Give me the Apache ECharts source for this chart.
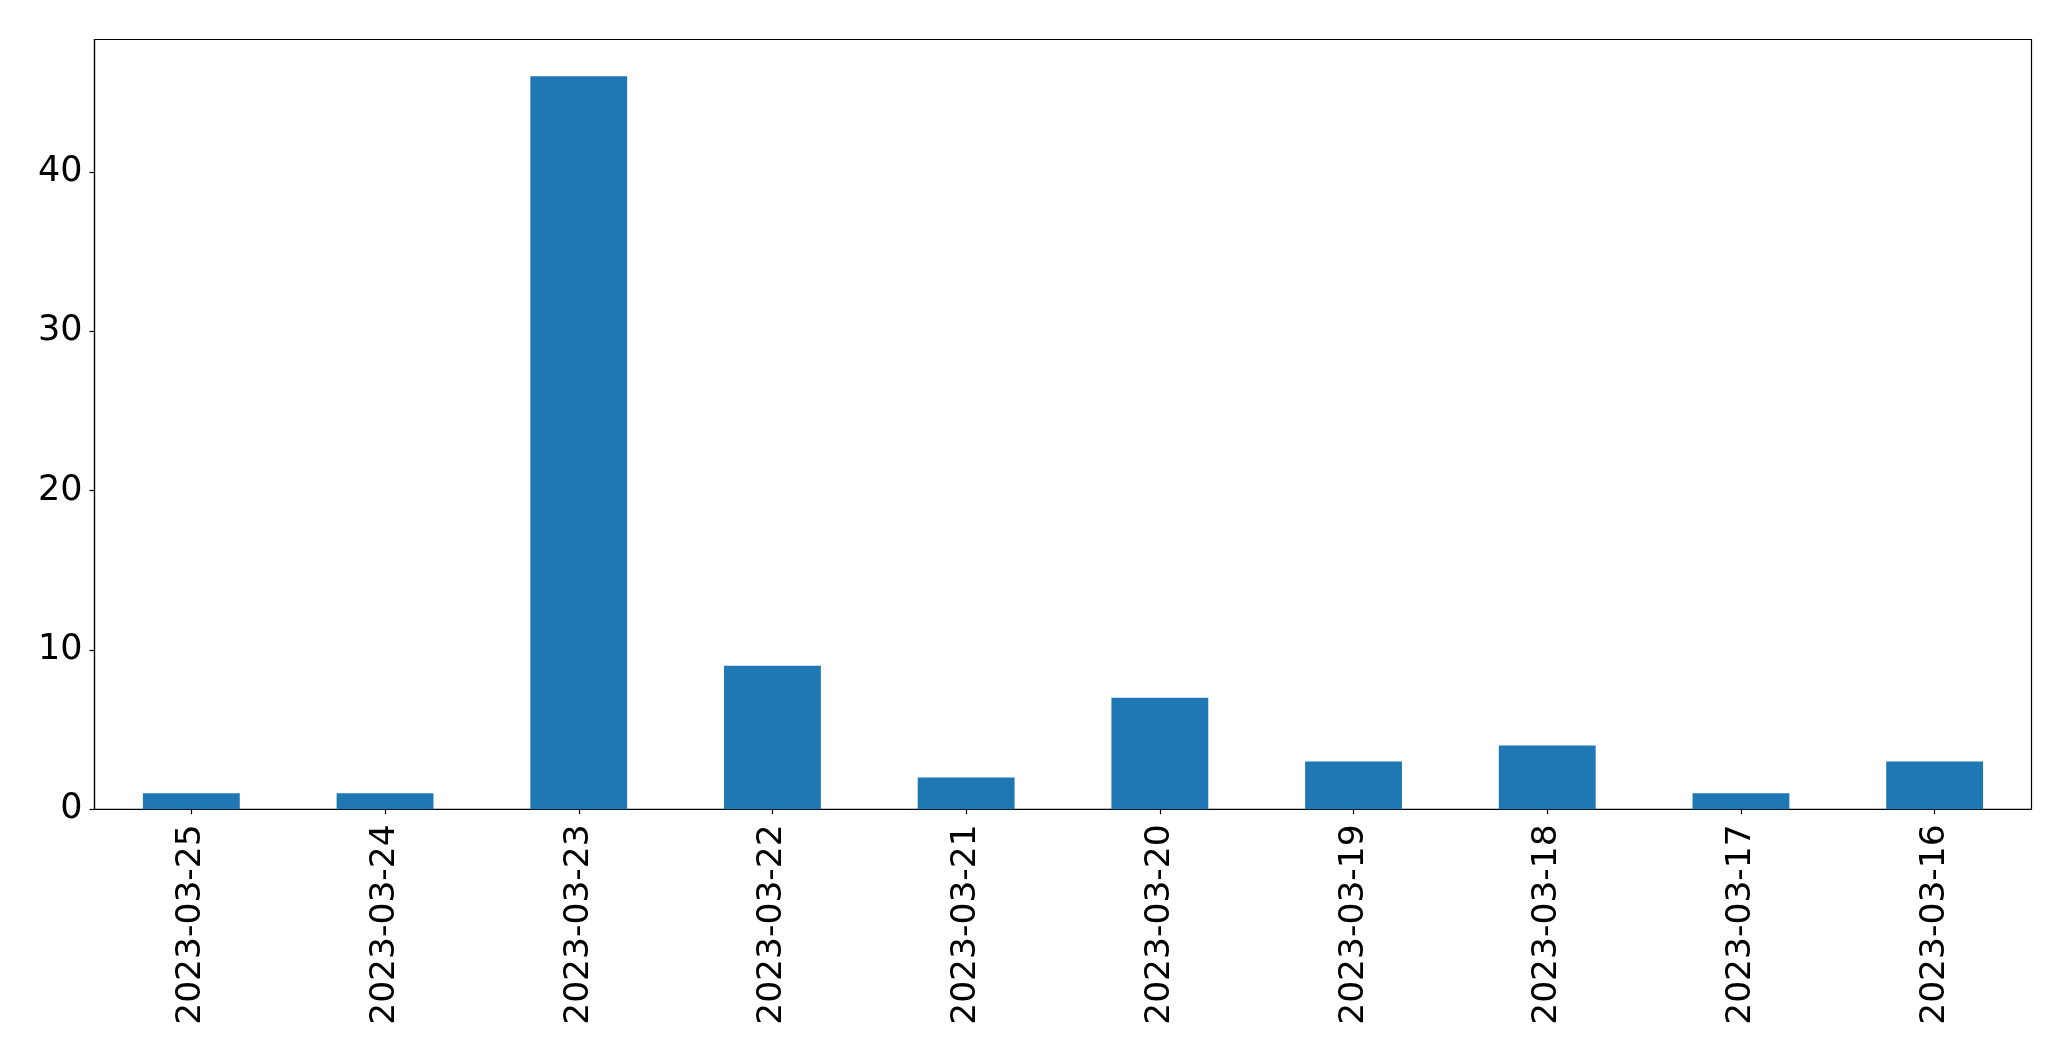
<!DOCTYPE html>
<html>
<head>
<meta charset="utf-8">
<script src="https://cdn.jsdelivr.net/npm/echarts@6/dist/echarts.min.js"></script>
<style>
html,body{margin:0;padding:0;background:#fff;}
#chart{width:2071px;height:1061px;}
</style>
</head>
<body>
<div id="chart"></div>
<script>
const categories = ["2023-03-25","2023-03-24","2023-03-23","2023-03-22","2023-03-21","2023-03-20","2023-03-19","2023-03-18","2023-03-17","2023-03-16"];
const values = [1,1,46,9,2,7,3,4,1,3];
const yMax = 48.3;

const chart = echarts.init(document.getElementById('chart'), null, {renderer:'canvas'});
chart.setOption({
  animation: false,
  backgroundColor: '#ffffff',
  grid: {left: 94.5, right: 39.5, top: 39.5, bottom: 251.7, show: true, borderColor: '#000', borderWidth: 1.2, backgroundColor: 'transparent'},
  xAxis: {
    type: 'category',
    data: categories,
    boundaryGap: true,
    axisLine: {show: true, lineStyle: {color: '#000', width: 1.2}},
    axisTick: {show: true, alignWithLabel: true, length: 5, lineStyle: {color: '#000', width: 1.2}},
    axisLabel: {rotate: 90, margin: 15, color: '#000', fontSize: 34.5, fontFamily: 'DejaVu Sans', interval: 0}
  },
  yAxis: {
    type: 'value',
    min: 0, max: yMax, interval: 10,
    splitLine: {show: false},
    axisLine: {show: true, lineStyle: {color: '#000', width: 1.2}},
    axisTick: {show: true, length: 5, lineStyle: {color: '#000', width: 1.2}},
    axisLabel: {margin: 12, color: '#000', fontSize: 35, fontFamily: 'DejaVu Sans', showMaxLabel: false}
  },
  series: [{
    type: 'bar',
    data: values,
    barWidth: '50%',
    itemStyle: {color: '#1f77b4'}
  }]
});
</script>
</body>
</html>
